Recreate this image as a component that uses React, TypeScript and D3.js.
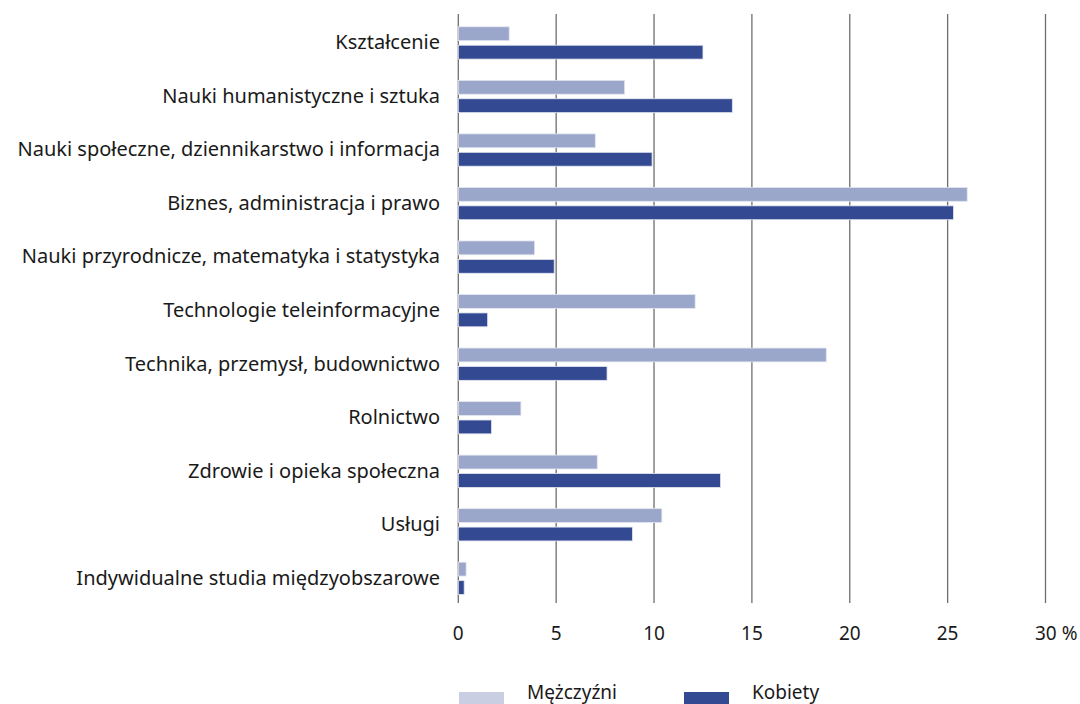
import React from "react";
import * as d3 from "d3";

const categories = [
  "Kształcenie",
  "Nauki humanistyczne i sztuka",
  "Nauki społeczne, dziennikarstwo i informacja",
  "Biznes, administracja i prawo",
  "Nauki przyrodnicze, matematyka i statystyka",
  "Technologie teleinformacyjne",
  "Technika, przemysł, budownictwo",
  "Rolnictwo",
  "Zdrowie i opieka społeczna",
  "Usługi",
  "Indywidualne studia międzyobszarowe",
];
const men = [2.6, 8.5, 7.0, 26.0, 3.9, 12.1, 18.8, 3.2, 7.1, 10.4, 0.4];
const women = [12.5, 14.0, 9.9, 25.3, 4.9, 1.5, 7.6, 1.7, 13.4, 8.9, 0.3];
const seriesNames = ["Mężczyźni", "Kobiety"];
const tickValues = [0, 5, 10, 15, 20, 25, 30];
const tickLabels = ["0", "5", "10", "15", "20", "25", "30 %"];

const W = 1080;
const H = 704;
const FONT = "'Noto Sans', 'Open Sans', sans-serif";
const barColors = ["#9aa7ca", "#334a92"];
const legendColors = ["#c9cee3", "#334a92"];

export default function App() {
  const x = d3.scaleLinear().domain([0, 30]).range([458.3, 1045.5]);
  const y = d3
    .scaleBand<string>()
    .domain(categories)
    .range([16.03, 604.97])
    .paddingInner(0)
    .paddingOuter(0);
  const sub = d3
    .scaleBand<string>()
    .domain(seriesNames)
    .range([-16, 16.3])
    .paddingInner(4.6 / 18.6)
    .paddingOuter(0);
  const center = (c: string) => (y(c) as number) + y.bandwidth() / 2;
  const series = [men, women];

  return (
    <svg
      width={W}
      height={H}
      style={{ position: "absolute", left: 0, top: 0, background: "#fff" }}
      fontFamily={FONT}
    >
      {tickValues.map((t) => (
        <line
          key={"g" + t}
          x1={x(t)}
          x2={x(t)}
          y1={14}
          y2={603}
          stroke="#6e6e6e"
          strokeWidth={1.3}
        />
      ))}
      {categories.map((c, i) => (
        <g key={c}>
          {series.map((s, j) => (
            <rect
              key={j}
              x={x(0)}
              y={center(c) + (sub(seriesNames[j]) as number)}
              width={x(s[i]) - x(0)}
              height={sub.bandwidth()}
              fill={barColors[j]}
              stroke="#e4e7f1"
              strokeWidth={0.8}
            />
          ))}
          <text
            x={440}
            y={center(c) + 6.5}
            textAnchor="end"
            fontSize={20}
            fill="#1a1a1a"
          >
            {c}
          </text>
        </g>
      ))}
      {tickValues.map((t, i) =>
        i === tickValues.length - 1 ? (
          <text
            key={"t" + t}
            x={x(t) - 10.5}
            y={640}
            textAnchor="start"
            fontSize={19}
            fill="#1a1a1a"
          >
            {tickLabels[i]}
          </text>
        ) : (
          <text
            key={"t" + t}
            x={x(t)}
            y={640}
            textAnchor="middle"
            fontSize={19}
            fill="#1a1a1a"
          >
            {tickLabels[i]}
          </text>
        )
      )}
      {seriesNames.map((n, j) => (
        <g key={n}>
          <rect
            x={459 + j * 225}
            y={692}
            width={45}
            height={20}
            fill={legendColors[j]}
          />
          <text
            x={527 + j * 225}
            y={699}
            fontSize={19}
            fill="#1a1a1a"
          >
            {n}
          </text>
        </g>
      ))}
    </svg>
  );
}
